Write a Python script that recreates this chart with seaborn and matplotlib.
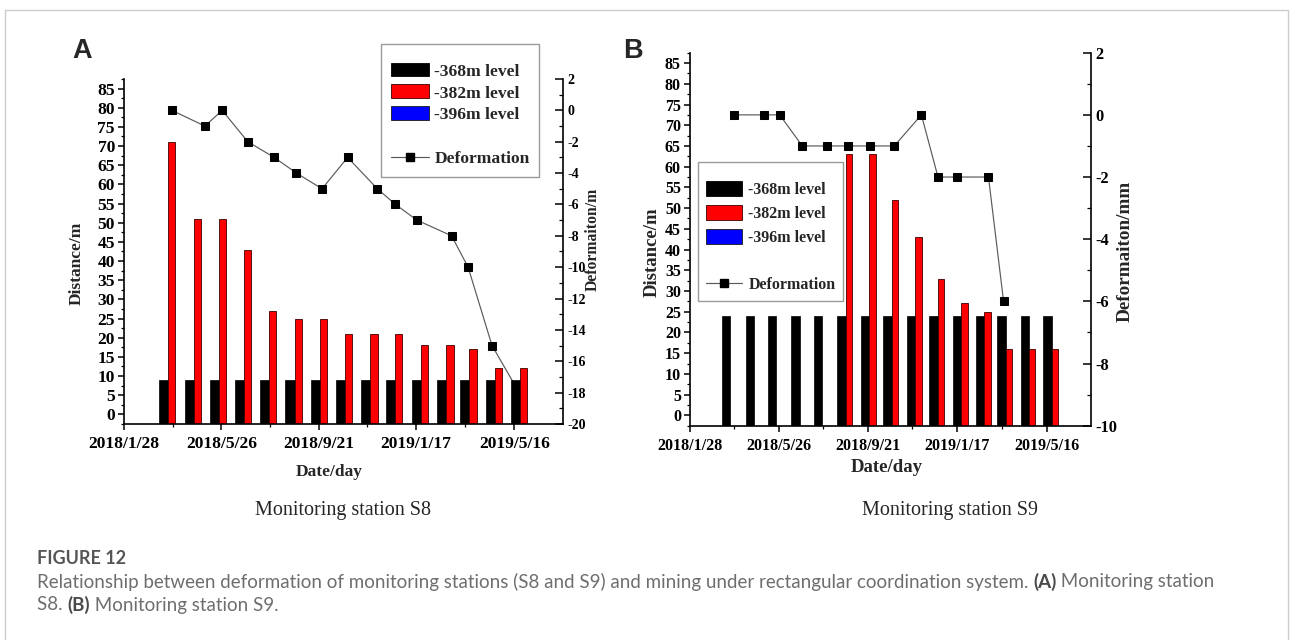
import numpy as np
import pandas as pd
import matplotlib
matplotlib.use("Agg")
import matplotlib.pyplot as plt
from matplotlib.patches import Patch
from matplotlib.lines import Line2D
from matplotlib.ticker import MultipleLocator, FixedLocator
import seaborn as sns

# ---------------- data ----------------
bar_dates = ["2018-03-27", "2018-04-27", "2018-05-27", "2018-06-27", "2018-07-27",
             "2018-08-27", "2018-09-27", "2018-10-27", "2018-11-27", "2018-12-27",
             "2019-01-27", "2019-02-27", "2019-03-27", "2019-04-27", "2019-05-27"]
s8_level_368 = [9, 9, 9, 9, 9, 9, 9, 9, 9, 9, 9, 9, 9, 9, 9]
s8_level_382 = [71, 51, 51, 43, 27, 25, 25, 21, 21, 21, 18, 18, 17, 12, 12]
s8_level_396 = [0, 0, 0, 0, 0, 0, 0, 0, 0, 0, 0, 0, 0, 0, 0]
s9_level_368 = [24, 24, 24, 24, 24, 24, 24, 24, 24, 24, 24, 24, 24, 24, 24]
s9_level_382 = [0, 0, 0, 0, 0, 63, 63, 52, 43, 33, 27, 25, 16, 16, 16]
s9_level_396 = [0, 0, 0, 0, 0, 0, 0, 0, 0, 0, 0, 0, 0, 0, 0]

s8_line_dates = ["2018-03-27", "2018-05-06", "2018-05-27", "2018-06-27", "2018-07-29",
                 "2018-08-25", "2018-09-25", "2018-10-26", "2018-12-01", "2018-12-23",
                 "2019-01-18", "2019-03-01", "2019-03-21", "2019-04-19", "2019-05-22"]
s8_deformation = [0, -1, 0, -2, -3, -4, -5, -3, -5, -6, -7, -8, -10, -15, -18]
s9_line_dates = ["2018-03-27", "2018-05-06", "2018-05-27", "2018-06-26", "2018-07-29",
                 "2018-08-25", "2018-09-24", "2018-10-26", "2018-12-01", "2018-12-23",
                 "2019-01-17", "2019-02-28", "2019-03-20"]
s9_deformation = [0, 0, 0, -1, -1, -1, -1, -1, 0, -2, -2, -2, -6]

x_tick_labels = ["2018/1/28", "2018/5/26", "2018/9/21", "2019/1/17", "2019/5/16"]
distance_ticks = [0, 5, 10, 15, 20, 25, 30, 35, 40, 45, 50, 55, 60, 65, 70, 75, 80, 85]
s8_def_ticks = [-20, -18, -16, -14, -12, -10, -8, -6, -4, -2, 0, 2]
s9_def_ticks = [-10, -8, -6, -4, -2, 0, 2]
legend_labels = ["-368m level", "-382m level", "-396m level", " ", "Deformation"]

# ---------------- style ----------------
W, H = 1290, 640
sns.set_theme(style="ticks", rc={"axes.edgecolor": "black", "xtick.color": "black",
                                 "ytick.color": "black", "axes.linewidth": 1.2})
plt.rcParams["font.family"] = ["Liberation Serif", "DejaVu Serif"]
plt.rcParams["font.weight"] = "bold"
plt.rcParams["axes.labelweight"] = "bold"
plt.rcParams["axes.unicode_minus"] = False

fig = plt.figure(figsize=(W / 100, H / 100), dpi=100)
fig.patch.set_facecolor("white")

SERIF = ["Liberation Serif", "DejaVu Serif"]
XMIN, XMAX = pd.Timestamp("2018-01-28"), pd.Timestamp("2019-07-14")
BOTTOM = -2.5


def panel(rect, lvl368, lvl382, lvl396, ldates, ldef, right_ticks, right_label,
          tick_fs, rtick_fs, lab_fs, rlab_fs, leg_fs, leg_anchor, lab_pos, leg_kw):
    ax = fig.add_axes(rect)
    ax2 = ax.twinx()
    ax.set_zorder(ax2.get_zorder() + 1)
    ax.patch.set_visible(False)

    d = pd.to_datetime(bar_dates)
    v368 = np.array(lvl368, float)
    v382 = np.array(lvl382, float)
    m1 = v368 > 0
    m2 = v382 > 0
    ax.bar(d[m1] - pd.Timedelta(days=9.85), v368[m1] - BOTTOM, bottom=BOTTOM,
           width=pd.Timedelta(days=11), color="black", edgecolor="black", linewidth=0.5)
    ax.bar(d[m2], v382[m2] - BOTTOM, bottom=BOTTOM, width=pd.Timedelta(days=8.7),
           color="#ff0000", edgecolor="#3a0000", linewidth=0.6)

    sns.lineplot(x=pd.to_datetime(ldates), y=ldef, ax=ax2, color="#5a5a5a", linewidth=0.85,
                 marker="s", markersize=5.5, markerfacecolor="black",
                 markeredgecolor="black", legend=False)

    ax.set_xlim(XMIN, XMAX)
    ax.set_ylim(BOTTOM, 87.5)
    ax2.set_ylim(right_ticks[0], right_ticks[-1])

    majors = pd.to_datetime(x_tick_labels, format="%Y/%m/%d")
    ax.set_xticks(majors)
    ax.set_xticklabels(x_tick_labels, fontweight="bold", family=SERIF, fontsize=tick_fs)
    mids = [majors[i] + (majors[i + 1] - majors[i]) / 2 for i in range(len(majors) - 1)]
    ax.xaxis.set_minor_locator(FixedLocator(matplotlib.dates.date2num(mids)))

    ax.set_yticks(distance_ticks)
    ax.set_yticklabels([str(t) for t in distance_ticks], fontweight="bold", family=SERIF,
                       fontsize=tick_fs)
    ax.yaxis.set_minor_locator(MultipleLocator(2.5))
    ax2.set_yticks(right_ticks)
    ax2.set_yticklabels([str(t) for t in right_ticks], fontweight="bold", family=SERIF,
                        fontsize=rtick_fs)
    ax2.yaxis.set_minor_locator(MultipleLocator(1))

    for a in (ax, ax2):
        a.spines["top"].set_visible(False)
        a.grid(False)
    ax.spines["right"].set_visible(False)
    ax2.spines["left"].set_visible(False)
    ax2.spines["bottom"].set_visible(False)

    ax.tick_params(axis="both", which="major", direction="out", length=4.5, width=1.1, pad=2)
    ax.tick_params(axis="both", which="minor", direction="out", length=2.5, width=0.9)
    ax.tick_params(axis="x", which="major", pad=4.5)
    ax2.tick_params(axis="y", which="major", direction="in", length=5.5, width=1.1, pad=3)
    ax2.tick_params(axis="y", which="minor", direction="in", length=3, width=0.9)

    (xl, yl), (xx, xy), (rx, ry) = lab_pos
    ax.set_ylabel("Distance/m", fontsize=lab_fs, fontweight="bold", family=SERIF, va="center")
    ax.yaxis.set_label_coords(xl, yl)
    ax.set_xlabel("Date/day", fontsize=lab_fs, fontweight="bold", family=SERIF, va="center")
    ax.xaxis.set_label_coords(xx, xy)
    ax2.set_ylabel(right_label, fontsize=rlab_fs, fontweight="bold", family=SERIF,
                   va="center", rotation=90)
    ax2.yaxis.set_label_coords(rx, ry)

    handles = [Patch(facecolor="black", edgecolor="black", linewidth=0.6),
               Patch(facecolor="#ff0000", edgecolor="#3a0000", linewidth=0.6),
               Patch(facecolor="#0000ff", edgecolor="#1a1a1a", linewidth=0.6),
               Line2D([], [], linestyle="none"),
               Line2D([], [], color="#5a5a5a", linewidth=0.85, marker="s", markersize=5.5,
                      markerfacecolor="black", markeredgecolor="black")]
    leg = ax.legend(handles, legend_labels, loc="upper left",
                    bbox_to_anchor=(leg_anchor[0] / W, 1 - leg_anchor[1] / H),
                    bbox_transform=fig.transFigure, frameon=True, fancybox=False,
                    edgecolor="#9a9a9a", framealpha=1, borderaxespad=0,
                    title=" ", title_fontsize=2,
                    prop={"family": SERIF, "weight": "bold", "size": leg_fs}, **leg_kw)
    leg.get_frame().set_linewidth(1.0)
    return ax, ax2


# Panel A
panel([124 / W, 1 - 424 / H, 439 / W, 345 / H], s8_level_368, s8_level_382, s8_level_396,
      s8_line_dates, s8_deformation, s8_def_ticks, "Deformaiton/m",
      tick_fs=12.6, rtick_fs=10, lab_fs=12.5, rlab_fs=11.3, leg_fs=12.6,
      leg_anchor=(381, 44),
      lab_pos=((-0.107, 0.467), (0.467, -0.139), (1.068, 0.536)),
      leg_kw=dict(handlelength=2.2, handleheight=0.85, labelspacing=0.28,
                  handletextpad=0.3, borderpad=0.55))

# Panel B
panel([690 / W, 1 - 425.7 / H, 401 / W, 373 / H], s9_level_368, s9_level_382, s9_level_396,
      s9_line_dates, s9_deformation, s9_def_ticks, "Deformaiton/mm",
      tick_fs=11.5, rtick_fs=11.8, lab_fs=13.5, rlab_fs=13.8, leg_fs=11.5,
      leg_anchor=(698, 162),
      lab_pos=((-0.095, 0.466), (0.491, -0.113), (1.086, 0.468)),
      leg_kw=dict(handlelength=2.25, handleheight=1.05, labelspacing=0.44,
                  handletextpad=0.4, borderpad=0.5))

# panel letters
SANS = ["Liberation Sans", "DejaVu Sans"]
fig.text(72 / W, 1 - 51 / H, "A", family=SANS, fontweight="bold", fontsize=19.5,
         ha="left", va="center")
fig.text(623 / W, 1 - 51 / H, "B", family=SANS, fontweight="bold", fontsize=19.5,
         ha="left", va="center")

# sub captions
fig.text(343 / W, 1 - 510 / H, "Monitoring station S8", family=SERIF, fontweight="normal",
         fontsize=14.5, ha="center", va="center")
fig.text(950 / W, 1 - 510 / H, "Monitoring station S9", family=SERIF, fontweight="normal",
         fontsize=14.5, ha="center", va="center")

# figure caption
CAP = ["Lato", "Open Sans", "DejaVu Sans"]
fig.text(37 / W, 1 - 558 / H, "FIGURE 12", family=CAP, fontweight="bold", fontsize=13,
         color="#555555", ha="left", va="center")
renderer = fig.canvas.get_renderer()


def runs(x_px, y_px, parts):
    x = x_px
    for txt, wt, col in parts:
        t = fig.text(x / W, 1 - y_px / H, txt, family=CAP, fontweight=wt, fontsize=13.5,
                     color=col, ha="left", va="center")
        x += t.get_window_extent(renderer).width


GREY, DARK = "#6e6e6e", "#4a4a4a"
runs(37, 582, [("Relationship between deformation of monitoring stations (S8 and S9) and mining "
                "under rectangular coordination system. ", "normal", GREY),
               ("(A)", "bold", DARK), (" Monitoring station", "normal", GREY)])
runs(37, 605, [("S8. ", "normal", GREY), ("(B)", "bold", DARK),
               (" Monitoring station S9.", "normal", GREY)])

# outer frame
for xs, ys in [((5, 1288), (10, 10)), ((5, 5), (10, 640)), ((1288, 1288), (10, 640))]:
    fig.add_artist(Line2D([x / W for x in xs], [1 - y / H for y in ys], color="#cccccc",
                          linewidth=1.0, transform=fig.transFigure))

fig.savefig("out.png", dpi=100, facecolor="white")
